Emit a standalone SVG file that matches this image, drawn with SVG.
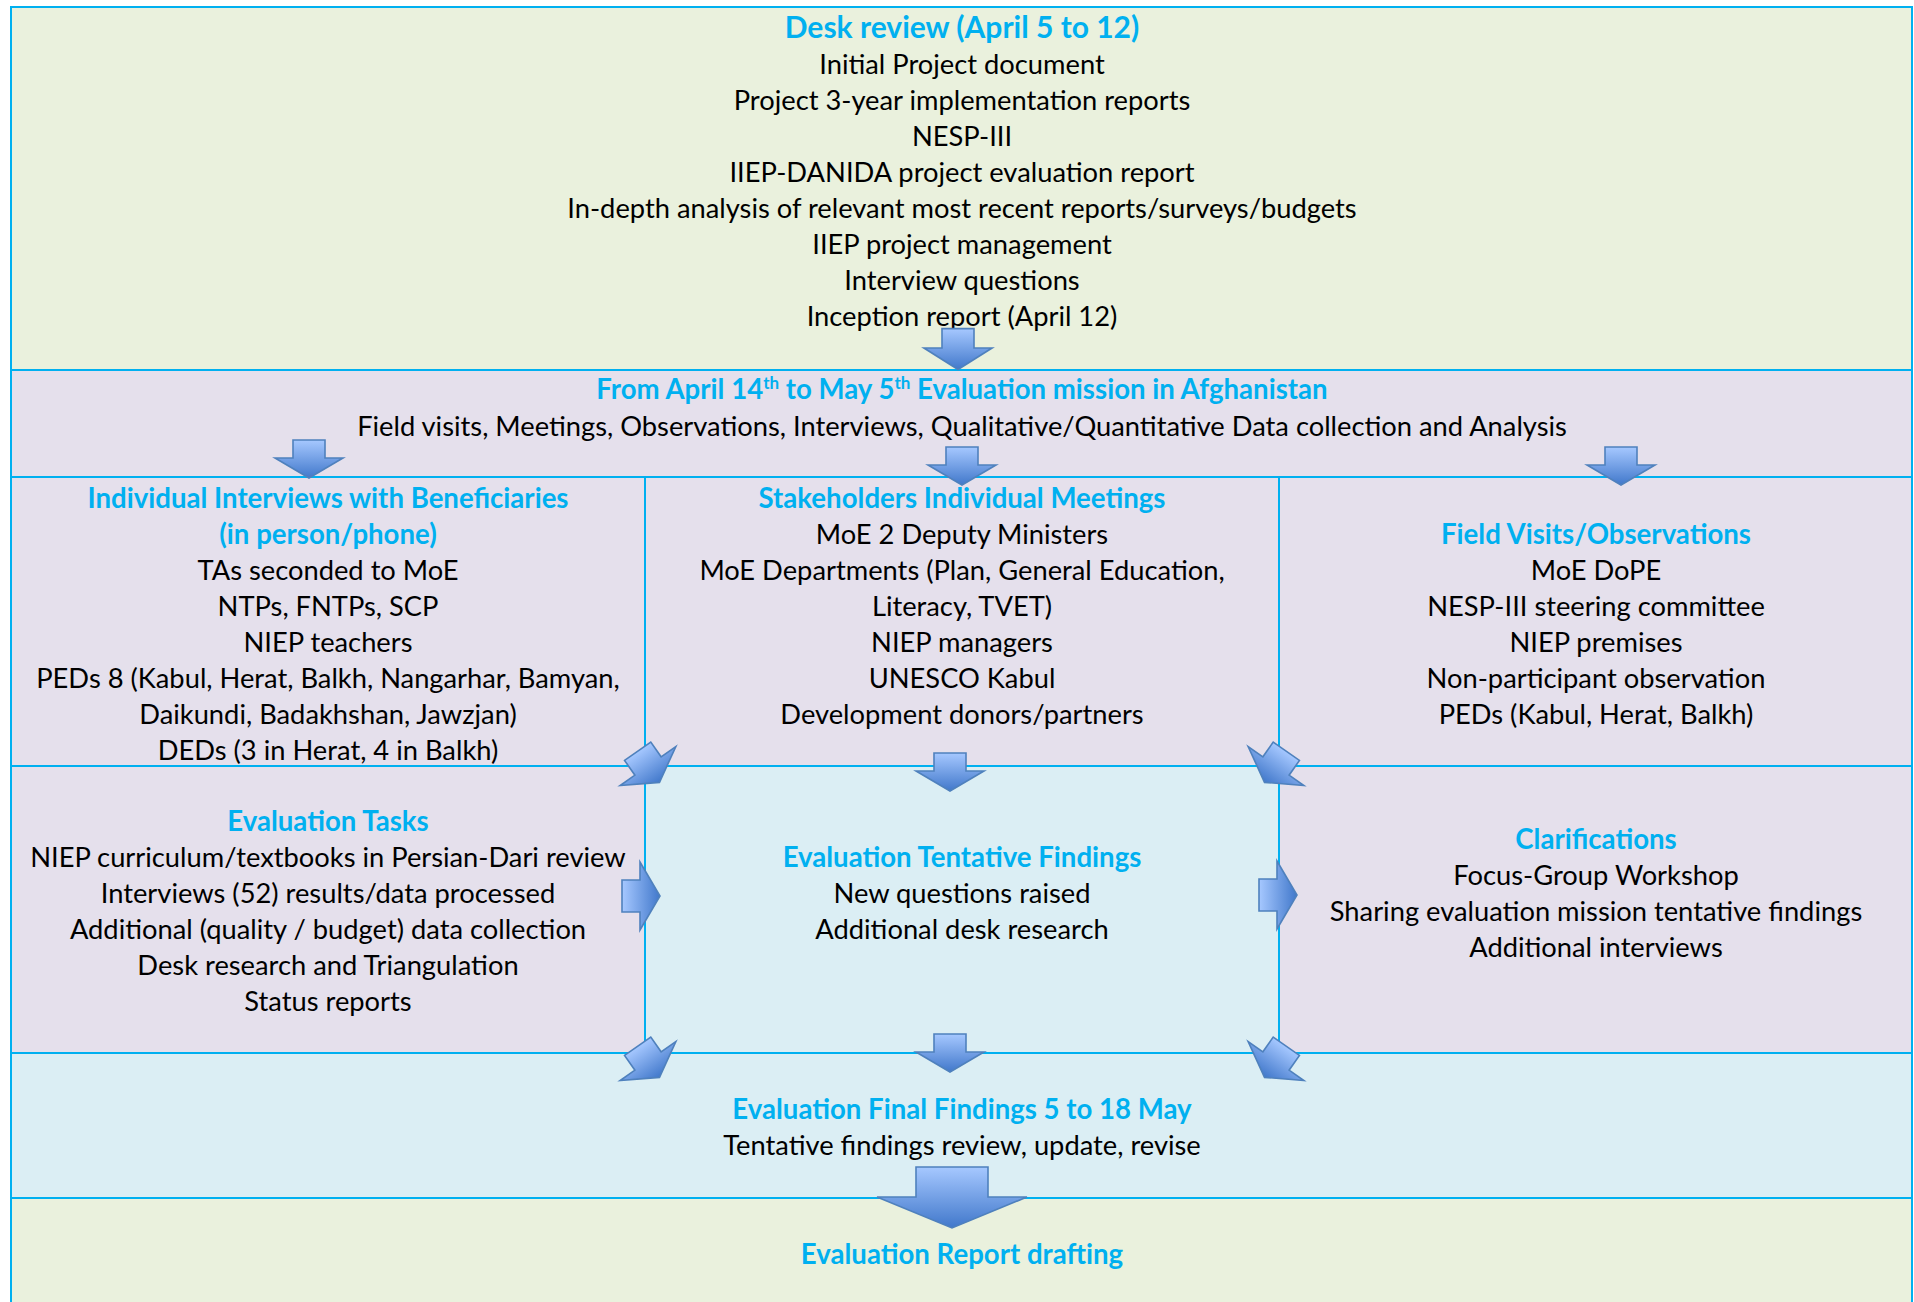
<svg xmlns="http://www.w3.org/2000/svg" xmlns:xlink="http://www.w3.org/1999/xlink" width="1914" height="1302" viewBox="0 0 1914 1302">
<style>
  .cell { stroke: #00B0F0; stroke-width: 2; }
  .green { fill: #EAF1DD; }
  .purple { fill: #E5E0EC; }
  .blue { fill: #DBEEF4; }
  text { font-family: Lato, "Liberation Sans", sans-serif; font-size: 27.3px; text-anchor: middle; fill: #000000; }
  .t { font-weight: 700; fill: #00B0F0; font-size: 27.6px; }
  .big { font-size: 30px; }
  .arrow { fill: url(#agrad); stroke: #4F81BD; stroke-width: 1.6; stroke-linejoin: miter; }
</style>
<defs>
  <linearGradient id="agrad" x1="0" y1="0" x2="0" y2="1">
    <stop offset="0" stop-color="#A6C8FF"/>
    <stop offset="1" stop-color="#4178CB"/>
  </linearGradient>
  <path id="arr" class="arrow" d="M-16,-18 L16,-18 L16,0 L34,0 L0,20 L-34,0 L-16,0 Z"/>
  <path id="bigarr" class="arrow" d="M-36,-30 L36,-30 L36,0 L75,0 L0,31 L-75,0 L-36,0 Z"/>
</defs>
<rect width="1914" height="1302" fill="#FFFFFF"/>

<g id="desk-review">
  <rect class="cell green" x="11" y="7" width="1901" height="363"/>
  <text class="t big" x="962" y="38">Desk review (April 5 to 12)</text>
  <text x="962" y="74">Initial Project document</text>
  <text x="962" y="110">Project 3-year implementation reports</text>
  <text x="962" y="146">NESP-III</text>
  <text x="962" y="182">IIEP-DANIDA project evaluation report</text>
  <text x="962" y="218">In-depth analysis of relevant most recent reports/surveys/budgets</text>
  <text x="962" y="254">IIEP project management</text>
  <text x="962" y="290">Interview questions</text>
  <text x="962" y="326">Inception report (April 12)</text>
</g>

<g id="evaluation-mission">
  <rect class="cell purple" x="11" y="370" width="1901" height="107"/>
  <text class="t" x="962" y="399">From April 14<tspan font-size="17" dy="-10">th</tspan><tspan dy="10"> to May 5</tspan><tspan font-size="17" dy="-10">th</tspan><tspan dy="10"> Evaluation mission in Afghanistan</tspan></text>
  <text x="962" y="436">Field visits, Meetings, Observations, Interviews, Qualitative/Quantitative Data collection and Analysis</text>
</g>

<g id="individual-interviews">
  <rect class="cell purple" x="11" y="477" width="634" height="289"/>
  <text class="t" x="328" y="508">Individual Interviews with Beneficiaries</text>
  <text class="t" x="328" y="544">(in person/phone)</text>
  <text x="328" y="580">TAs seconded to MoE</text>
  <text x="328" y="616">NTPs, FNTPs, SCP</text>
  <text x="328" y="652">NIEP teachers</text>
  <text x="328" y="688">PEDs 8 (Kabul, Herat, Balkh, Nangarhar, Bamyan,</text>
  <text x="328" y="724">Daikundi, Badakhshan, Jawzjan)</text>
  <text x="328" y="760">DEDs (3 in Herat, 4 in Balkh)</text>
</g>

<g id="stakeholders-meetings">
  <rect class="cell purple" x="645" y="477" width="634" height="289"/>
  <text class="t" x="962" y="508">Stakeholders Individual Meetings</text>
  <text x="962" y="544">MoE 2 Deputy Ministers</text>
  <text x="962" y="580">MoE Departments (Plan, General Education,</text>
  <text x="962" y="616">Literacy, TVET)</text>
  <text x="962" y="652">NIEP managers</text>
  <text x="962" y="688">UNESCO Kabul</text>
  <text x="962" y="724">Development donors/partners</text>
</g>

<g id="field-visits">
  <rect class="cell purple" x="1279" y="477" width="633" height="289"/>
  <text class="t" x="1596" y="544">Field Visits/Observations</text>
  <text x="1596" y="580">MoE DoPE</text>
  <text x="1596" y="616">NESP-III steering committee</text>
  <text x="1596" y="652">NIEP premises</text>
  <text x="1596" y="688">Non-participant observation</text>
  <text x="1596" y="724">PEDs (Kabul, Herat, Balkh)</text>
</g>

<g id="evaluation-tasks">
  <rect class="cell purple" x="11" y="766" width="634" height="287"/>
  <text class="t" x="328" y="831">Evaluation Tasks</text>
  <text x="328" y="867">NIEP curriculum/textbooks in Persian-Dari review</text>
  <text x="328" y="903">Interviews (52) results/data processed</text>
  <text x="328" y="939">Additional (quality / budget) data collection</text>
  <text x="328" y="975">Desk research and Triangulation</text>
  <text x="328" y="1011">Status reports</text>
</g>

<g id="tentative-findings">
  <rect class="cell blue" x="645" y="766" width="634" height="287"/>
  <text class="t" x="962" y="867">Evaluation Tentative Findings</text>
  <text x="962" y="903">New questions raised</text>
  <text x="962" y="939">Additional desk research</text>
</g>

<g id="clarifications">
  <rect class="cell purple" x="1279" y="766" width="633" height="287"/>
  <text class="t" x="1596" y="849">Clarifications</text>
  <text x="1596" y="885">Focus-Group Workshop</text>
  <text x="1596" y="921">Sharing evaluation mission tentative findings</text>
  <text x="1596" y="957">Additional interviews</text>
</g>

<g id="final-findings">
  <rect class="cell blue" x="11" y="1053" width="1901" height="145"/>
  <text class="t" x="962" y="1119">Evaluation Final Findings 5 to 18 May</text>
  <text x="962" y="1155">Tentative findings review, update, revise</text>
</g>

<g id="report-drafting">
  <rect class="cell green" x="11" y="1198" width="1901" height="120"/>
  <text class="t" x="962" y="1264">Evaluation Report drafting</text>
</g>

<g id="connectors">
  <use xlink:href="#arr" transform="translate(958,348) scale(1,1.08)"/>
  <use xlink:href="#arr" transform="translate(309,458)"/>
  <use xlink:href="#arr" transform="translate(962,465)"/>
  <use xlink:href="#arr" transform="translate(1621,465)"/>
  <use xlink:href="#arr" transform="translate(648,766) rotate(-35)"/>
  <use xlink:href="#arr" transform="translate(950,771)"/>
  <use xlink:href="#arr" transform="translate(1276,766) rotate(35)"/>
  <use xlink:href="#arr" transform="translate(640,896) rotate(-90)"/>
  <use xlink:href="#arr" transform="translate(1277,895) rotate(-90)"/>
  <use xlink:href="#arr" transform="translate(648,1061) rotate(-35)"/>
  <use xlink:href="#arr" transform="translate(950,1052)"/>
  <use xlink:href="#arr" transform="translate(1276,1061) rotate(35)"/>
  <use xlink:href="#bigarr" transform="translate(952,1197)"/>
</g>
</svg>
